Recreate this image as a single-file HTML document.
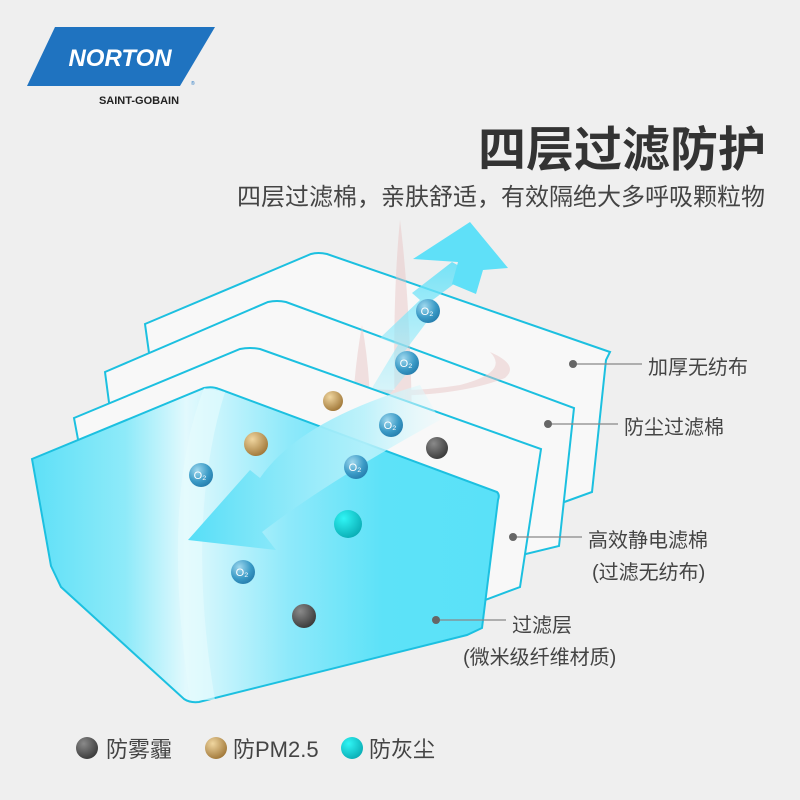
<!DOCTYPE html>
<html><head><meta charset="utf-8"><style>
html,body{margin:0;padding:0;background:#efefef;}
svg{display:block;}
text{font-family:"Liberation Sans","Noto Sans CJK SC",sans-serif;}
</style></head><body>
<svg width="800" height="800" viewBox="0 0 800 800" xmlns="http://www.w3.org/2000/svg">
<defs>
<linearGradient id="front" x1="0" y1="0" x2="1" y2="0">
<stop offset="0" stop-color="#5ee0f7"/>
<stop offset="0.2" stop-color="#8eeaf9"/>
<stop offset="0.33" stop-color="#e2f9fd"/>
<stop offset="0.55" stop-color="#8ee9fa"/>
<stop offset="0.75" stop-color="#5de2f8"/>
<stop offset="1" stop-color="#5ae1f8"/>
</linearGradient>
<linearGradient id="arr" x1="0" y1="0" x2="1" y2="0">
<stop offset="0" stop-color="#55def7"/>
<stop offset="0.7" stop-color="#b8f1fb" stop-opacity="0.9"/>
<stop offset="1" stop-color="#e8fafd" stop-opacity="0.4"/>
</linearGradient>
<linearGradient id="up" x1="0" y1="1" x2="0" y2="0">
<stop offset="0" stop-color="#aeeffb" stop-opacity="0.5"/>
<stop offset="1" stop-color="#5fe0f8"/>
</linearGradient>
<radialGradient id="o2" cx="0.35" cy="0.3" r="0.8">
<stop offset="0" stop-color="#9fd8ee"/><stop offset="0.6" stop-color="#3a9ac6"/><stop offset="1" stop-color="#2278a8"/>
</radialGradient>
<radialGradient id="dk" cx="0.35" cy="0.3" r="0.8">
<stop offset="0" stop-color="#8a8a8a"/><stop offset="1" stop-color="#333"/>
</radialGradient>
<radialGradient id="br" cx="0.35" cy="0.3" r="0.8">
<stop offset="0" stop-color="#f0d6a0"/><stop offset="1" stop-color="#9a7030"/>
</radialGradient>
<radialGradient id="tl" cx="0.35" cy="0.3" r="0.8">
<stop offset="0" stop-color="#30f5f5"/><stop offset="1" stop-color="#07a8b0"/>
</radialGradient>
</defs>

<!-- logo -->
<polygon points="55,27 215,27 180,86 27,86" fill="#1f73c0"/>
<text x="120" y="66" text-anchor="middle" font-size="24" font-weight="bold" font-style="italic" fill="#fff" letter-spacing="0">NORTON</text>
<text x="191" y="85" font-size="5" fill="#1f73c0">®</text>
<text x="139" y="104" text-anchor="middle" font-size="11" font-weight="bold" fill="#222">SAINT-GOBAIN</text>

<!-- titles -->
<text x="766" y="166" text-anchor="end" font-size="48" font-weight="bold" fill="#333">四层过滤防护</text>
<text x="765" y="205" text-anchor="end" font-size="24" fill="#444">四层过滤棉，亲肤舒适，有效隔绝大多呼吸颗粒物</text>

<!-- layers -->
<path d="M145,324 L311,254 Q318,252 327,254 L610,352 L606,360 L592,492 L556,505 L150,360 Z" fill="#f8f8f8" stroke="#1cc0e0" stroke-width="2"/>
<path d="M105,372 L268,302 Q277,300 286,302 L574,408 L559,546 L526,554 L110,410 Z" fill="#f8f8f8" stroke="#1cc0e0" stroke-width="2"/>
<g opacity="0.45" fill="#e8c2c2">
<path d="M400,220 Q410,300 412,420 L405,470 L395,420 Q392,300 400,220Z"/>
<path d="M362,325 Q372,380 370,440 L360,470 L352,420 Q354,370 362,325Z"/>
<path d="M290,365 Q300,395 380,396 Q460,396 505,378 Q520,365 490,352 Q510,372 460,385 Q400,395 340,385 Q300,378 295,365Z"/>
</g>
<path d="M74,418 L240,349 Q250,347 260,349 L541,449 L520,587 L485,600 L80,450 Z" fill="#f8f8f8" stroke="#1cc0e0" stroke-width="2"/>
<path d="M32,459 L204,388 Q212,386 219,389 L497,492 Q500,495 498,500 L482,628 L467,635 L199,702 Q190,703 184,699 L61,587 L51,566 Z" fill="url(#front)" stroke="#1cc0e0" stroke-width="2"/>
<path d="M204,388 Q160,500 190,700 L215,700 Q185,520 225,392 Z" fill="#e6fbfe" opacity="0.6"/>

<!-- up arrow -->
<polygon points="372,388 398,345 380,338 420,300 412,293 452,262 470,272 430,302 438,307 402,355 418,360 390,394" fill="url(#up)" opacity="0.85"/>
<polygon points="413,259 470,222 508,268 483,270 476,294 452,284 458,262" fill="#5fe0f8"/>
<!-- curved arrow -->
<path d="M420,385 Q300,420 260,478 L250,470 L188,540 L276,550 L262,532 Q330,480 440,420 Z" fill="url(#arr)"/>

<!-- O2 -->
<g font-size="11" fill="#fff" text-anchor="middle">
<circle cx="428" cy="311" r="12" fill="url(#o2)"/><text x="427" y="315">O₂</text>
<circle cx="407" cy="363" r="12" fill="url(#o2)"/><text x="406" y="367">O₂</text>
<circle cx="391" cy="425" r="12" fill="url(#o2)"/><text x="390" y="429">O₂</text>
<circle cx="356" cy="467" r="12" fill="url(#o2)"/><text x="355" y="471">O₂</text>
<circle cx="201" cy="475" r="12" fill="url(#o2)"/><text x="200" y="479">O₂</text>
<circle cx="243" cy="572" r="12" fill="url(#o2)"/><text x="242" y="576">O₂</text>
</g>
<circle cx="333" cy="401" r="10" fill="url(#br)"/>
<circle cx="256" cy="444" r="12" fill="url(#br)"/>
<circle cx="437" cy="448" r="11" fill="url(#dk)"/>
<circle cx="348" cy="524" r="14" fill="url(#tl)"/>
<circle cx="304" cy="616" r="12" fill="url(#dk)"/>

<!-- labels -->
<g stroke="#888" stroke-width="1.2">
<line x1="573" y1="364" x2="642" y2="364"/>
<line x1="548" y1="424" x2="618" y2="424"/>
<line x1="513" y1="537" x2="582" y2="537"/>
<line x1="436" y1="620" x2="506" y2="620"/>
</g>
<g fill="#666"><circle cx="573" cy="364" r="4"/><circle cx="548" cy="424" r="4"/><circle cx="513" cy="537" r="4"/><circle cx="436" cy="620" r="4"/></g>
<g font-size="20" fill="#444">
<text x="648" y="374">加厚无纺布</text>
<text x="624" y="434">防尘过滤棉</text>
<text x="588" y="547">高效静电滤棉</text>
<text x="592" y="579">(过滤无纺布)</text>
<text x="512" y="632">过滤层</text>
<text x="463" y="664">(微米级纤维材质)</text>
</g>

<!-- legend -->
<circle cx="87" cy="748" r="11" fill="url(#dk)"/>
<circle cx="216" cy="748" r="11" fill="url(#br)"/>
<circle cx="352" cy="748" r="11" fill="url(#tl)"/>
<g font-size="22" fill="#444">
<text x="106" y="757">防雾霾</text>
<text x="233" y="757">防PM2.5</text>
<text x="369" y="757">防灰尘</text>
</g>
</svg>
</body></html>
